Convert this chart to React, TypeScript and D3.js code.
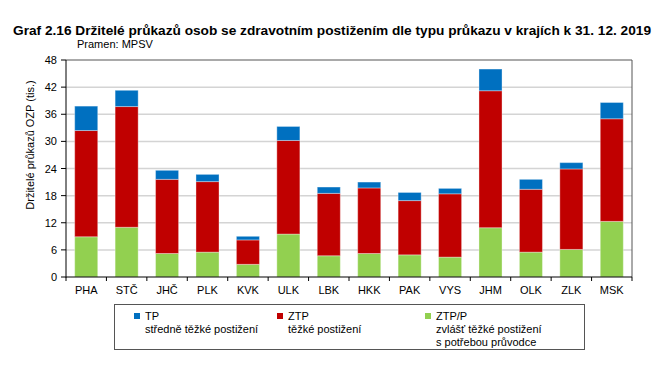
import React from "react";
import * as d3 from "d3";

const categories = ["PHA", "STČ", "JHČ", "PLK", "KVK", "ULK", "LBK", "HKK", "PAK", "VYS", "JHM", "OLK", "ZLK", "MSK"];
// values in thousands
const ztpp = [8.9, 11.0, 5.2, 5.5, 2.8, 9.5, 4.7, 5.2, 4.9, 4.4, 10.9, 5.5, 6.1, 12.3];
const ztp = [23.5, 26.7, 16.4, 15.6, 5.4, 20.7, 13.8, 14.5, 12.0, 14.0, 30.3, 13.9, 17.8, 22.7];
const tp = [5.4, 3.6, 2.0, 1.6, 0.8, 3.1, 1.4, 1.3, 1.8, 1.2, 4.8, 2.2, 1.4, 3.6];
const yTicks = [0, 6, 12, 18, 24, 30, 36, 42, 48];

const seriesKeys = ["ztpp", "ztp", "tp"];
const colors: Record<string, string> = { tp: "#0070C0", ztp: "#C00000", ztpp: "#92D050" };

const legendItems = [
  { key: "tp", lines: ["TP", "středně těžké postižení"] },
  { key: "ztp", lines: ["ZTP", "těžké postižení"] },
  { key: "ztpp", lines: ["ZTP/P", "zvlášť těžké postižení", "s potřebou průvodce"] },
];

export default function App() {
  const W = 662, H = 368;
  const left = 66, right = 632, top = 60, bottom = 277;
  const x = d3.scaleBand().domain(categories).range([left, right]).paddingInner(0.43).paddingOuter(0.215);
  const y = d3.scaleLinear().domain([0, 48]).range([bottom, top]);
  const rows = categories.map((c, i) => ({ cat: c, ztpp: ztpp[i], ztp: ztp[i], tp: tp[i] }));
  const stacked = d3.stack<any>().keys(seriesKeys)(rows);
  const step = (right - left) / categories.length;
  const font = "'Liberation Sans', Arial, sans-serif";
  const legX = [134, 277, 425];

  return (
    <svg width={W} height={H} style={{ position: "absolute", left: 0, top: 0, background: "#fff" }} fontFamily={font}>
      <text x={13} y={35} fontSize={13} fontWeight="bold" fill="#000" textLength={638} lengthAdjust="spacingAndGlyphs">
        Graf 2.16 Držitelé průkazů osob se zdravotním postižením dle typu průkazu v krajích k 31. 12. 2019
      </text>
      <text x={77} y={48} fontSize={11} fill="#000">Pramen: MPSV</text>

      {yTicks.map((t) => (
        <g key={t}>
          {t > 0 && t < 48 && <line x1={left} x2={right} y1={y(t)} y2={y(t)} stroke="#d4d4d4" strokeWidth={1.5} />}
          <line x1={left - 5} x2={left} y1={y(t)} y2={y(t)} stroke="#000" />
          <text x={left - 9} y={y(t) + 4} fontSize={11} textAnchor="end">{t}</text>
        </g>
      ))}
      <line x1={left} x2={right} y1={top} y2={top} stroke="#555" />
      <line x1={right} x2={right} y1={top} y2={bottom} stroke="#555" />

      {stacked.map((s) => (
        <g key={s.key} fill={colors[s.key]}>
          {s.map((d, i) => (
            <rect key={i} x={x(categories[i])!} width={x.bandwidth()} y={y(d[1])} height={y(d[0]) - y(d[1])}
              stroke="#ffffff" strokeOpacity={0.35} strokeWidth={1} />
          ))}
        </g>
      ))}

      <line x1={left} x2={left} y1={top} y2={bottom + 0.5} stroke="#000" />
      <line x1={left} x2={right} y1={bottom} y2={bottom} stroke="#000" />
      {d3.range(categories.length + 1).map((i) => (
        <line key={i} x1={left + i * step} x2={left + i * step} y1={bottom} y2={bottom + 4} stroke="#000" />
      ))}
      {categories.map((c) => (
        <text key={c} x={x(c)! + x.bandwidth() / 2} y={bottom + 17} fontSize={11} textAnchor="middle">{c}</text>
      ))}

      <text transform="translate(34,145) rotate(-90)" fontSize={11} textAnchor="middle">Držitelé průkazů OZP (tis.)</text>

      <rect x={114.5} y={304.5} width={470} height={45} fill="#fff" stroke="#555" />
      {legendItems.map((it, i) => (
        <g key={it.key}>
          <rect x={legX[i]} y={313} width={6} height={6} fill={colors[it.key]} />
          {it.lines.map((ln, j) => (
            <text key={j} x={legX[i] + 11} y={320 + j * 13} fontSize={11}>{ln}</text>
          ))}
        </g>
      ))}
    </svg>
  );
}
